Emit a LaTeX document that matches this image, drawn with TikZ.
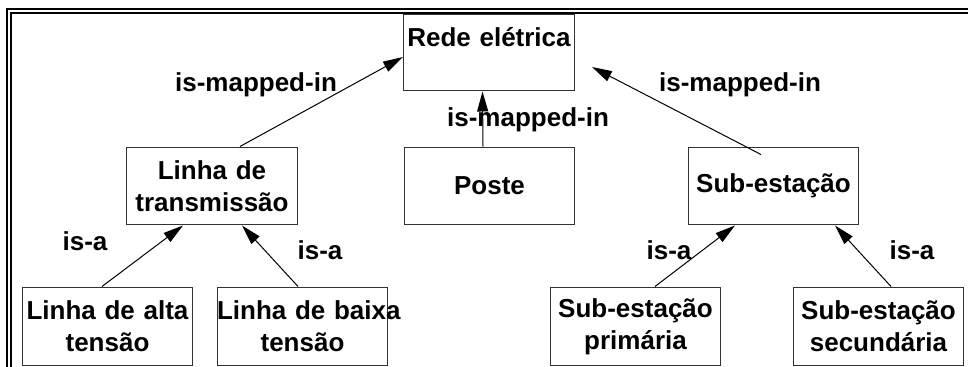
\documentclass[tikz,border=0pt]{standalone}
\usepackage{fontspec}
\setmainfont{Liberation Sans}
\usetikzlibrary{arrows.meta, positioning}
\definecolor{boxcolor}{RGB}{50,50,50}
\definecolor{linkcolor}{RGB}{0,0,0}

\begin{document}
\begin{tikzpicture}[
    x=0.02cm, y=-0.02cm,
    concept/.style={draw=boxcolor, line width=0.02cm, text width=3.42cm, inner xsep=0pt, inner ysep=0.08cm, align=center, font=\fontsize{14.8}{18.2}\selectfont\bfseries},
    mid/.style={concept, minimum height=1.56cm},
    leaf/.style={concept, minimum height=1.58cm},
    rel/.style={-{Triangle[length=0.4cm, width=0.22cm]}, line width=0.02cm, linkcolor},
    relname/.style={font=\fontsize{14.8}{18.2}\selectfont\bfseries, anchor=base, inner sep=0pt}
]
    \useasboundingbox (0,0) rectangle (968,367);

    % double frame
    \begin{scope}
        \clip (0,0) rectangle (968,367);
        \draw[line width=0.04cm] (7,9) rectangle (990,390);
        \draw[line width=0.04cm] (11,13) rectangle (986,386);
    \end{scope}

    % Top concept
    \node[concept, text height=0.56cm, text depth=0.8cm, anchor=base] (rede) at (489,47) {Rede elétrica};

    % Middle level
    \node[mid] (lt) at (212,186) {Linha de\\transmissão};
    \node[mid] (poste) at (489.5,186) {Poste};
    \node[mid] (sub) at (773.5,186) {Sub-estação};

    % Bottom level
    \node[leaf] (lat) at (107.5,326.5) {Linha de alta\\tensão};
    \node[leaf] (lbt) at (302.5,326.5) {\mbox{Linha de baixa}\\tensão};
    \node[leaf] (sp) at (635.5,326.5) {Sub-estação\\primária};
    \node[leaf] (ss) at (878.5,326.5) {Sub-estação\\secundária};

    % Relation names
    \node[relname] (mapLT) at (256,92) {is-mapped-in};
    \node[relname] (mapPoste) at (528,127) {is-mapped-in};
    \node[relname] (mapSub) at (740,92) {is-mapped-in};
    \node[relname] (isaLat) at (85,251) {is-a};
    \node[relname] (isaLbt) at (320,260) {is-a};
    \node[relname] (isaSp) at (669,260) {is-a};
    \node[relname] (isaSs) at (912,260) {is-a};

    % is-mapped-in links
    \draw[rel] ([xshift=0.56cm]lt.north) -- ([yshift=-0.08cm]rede.west);
    \draw[rel] ([xshift=-0.13cm]poste.north) -- ([xshift=-0.13cm]rede.south);
    \draw[rel] ([xshift=-0.25cm,yshift=-0.16cm]sub.north) -- ([xshift=0.34cm,yshift=-0.28cm]rede.east);

    % is-a links
    \draw[rel] ([xshift=-0.11cm]lat.north) -- ([xshift=-0.58cm]lt.south);
    \draw[rel] ([xshift=-0.09cm]lbt.north) -- ([xshift=0.6cm]lt.south);
    \draw[rel] ([xshift=0.39cm]sp.north) -- ([xshift=-0.77cm]sub.south);
    \draw[rel] ([xshift=0.25cm]ss.north) -- ([xshift=1.23cm]sub.south);

\end{tikzpicture}
\end{document}
